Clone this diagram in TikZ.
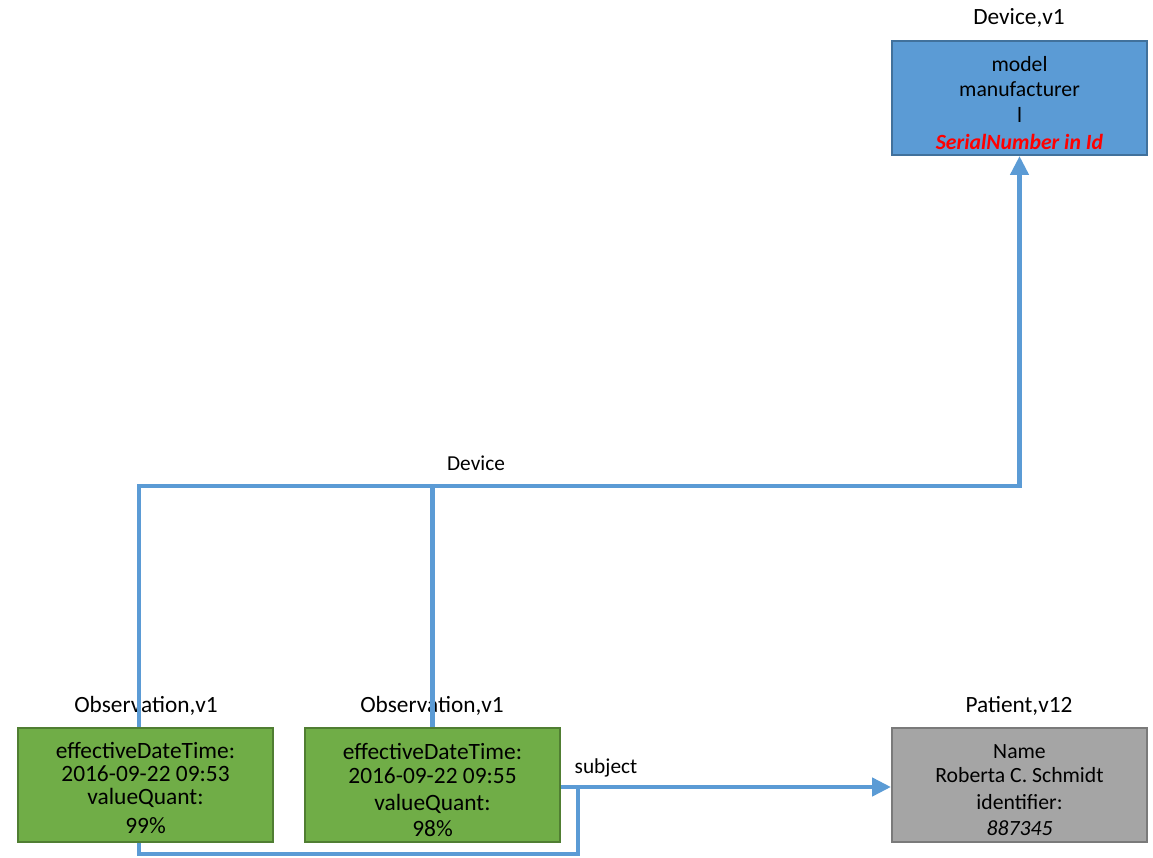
\documentclass[tikz,border=0pt]{standalone}
\usepackage{fontspec}
\setmainfont{Carlito}
\usetikzlibrary{arrows.meta}
\definecolor{lblue}{HTML}{5B9BD5}
\definecolor{devborder}{HTML}{41719C}
\definecolor{ogreen}{HTML}{70AD47}
\definecolor{gborder}{HTML}{507E32}
\definecolor{pgray}{HTML}{A5A5A5}
\definecolor{pborder}{HTML}{7A7A7A}
\definecolor{sred}{HTML}{FF0000}
\tikzset{
  lnk/.style={line width=4.5pt, draw=lblue},
  tip/.style={-{Triangle[length=19pt,width=18pt]}},
  ent/.style={draw, line width=2pt, minimum width=255pt, minimum height=114pt, inner sep=0pt},
  txt/.style={align=center, inner sep=0pt, anchor=north},
  big/.style={font=\fontsize{23.4}{24}\selectfont},
  mid/.style={font=\fontsize{21.7}{25}\selectfont},
  ttl/.style={font=\fontsize{23.3}{26}\selectfont, inner sep=0pt},
  lbl/.style={font=\fontsize{21.3}{24}\selectfont, inner sep=0pt}
}
\begin{document}
\begin{tikzpicture}[x=1pt,y=-1pt]
\useasboundingbox (0,0) rectangle (1153,858);
% entities
\node[ent, fill=lblue, draw=devborder] (dev) at (1019.5,98) {};
\node[ent, fill=ogreen, draw=gborder] (o1) at (145.5,785) {};
\node[ent, fill=ogreen, draw=gborder] (o2) at (432.5,785) {};
\node[ent, fill=pgray, draw=pborder] (pat) at (1019.5,785) {};
\node[txt, mid] (devx) at ([yshift=-16pt]dev.north)
  {model\\manufacturer\\[1pt]l\\[2pt]{\color{sred}\bfseries\itshape SerialNumber in Id}};
\node[txt, big] (o1x) at ([yshift=-15pt]o1.north)
  {effectiveDateTime:\\[-1pt]2016-09-22 09:53\\[-1pt]valueQuant:\\[5pt]99\%};
\node[txt, big] (o2x) at ([yshift=-16pt]o2.north)
  {effectiveDateTime:\\[0pt]2016-09-22 09:55\\[3pt]valueQuant:\\[2pt]98\%};
\node[txt, mid] (patx) at ([yshift=-17pt]pat.north)
  {Name\\[-1pt]Roberta C. Schmidt\\[2pt]identifier:\\[1pt]\textit{887345}};
% titles
\node[ttl] (devt) at (1019,18) {Device,v1};
\node[ttl] (o1t) at (146,706) {Observation,v1};
\node[ttl] (o2t) at (432,706) {Observation,v1};
\node[ttl] (patt) at (1019,706) {Patient,v12};
% device link
\coordinate (bend) at (139,486);
\draw[lnk, tip] ([xshift=-6.5pt]o1.north) -- (bend) -| (dev.south);
\draw[lnk] (o2.north) -- (o2.north |- bend);
\node[lbl] (devl) at (476,463) {Device};
% subject link
\coordinate (sj) at (578,787);
\draw[lnk, tip] (o2.east |- sj) -- (pat.west |- sj);
\draw[lnk] ([xshift=-6.5pt]o1.south) -- ++(0,11) -| (sj);
\node[lbl] (subl) at (606,768) {subject};
\end{tikzpicture}
\end{document}
